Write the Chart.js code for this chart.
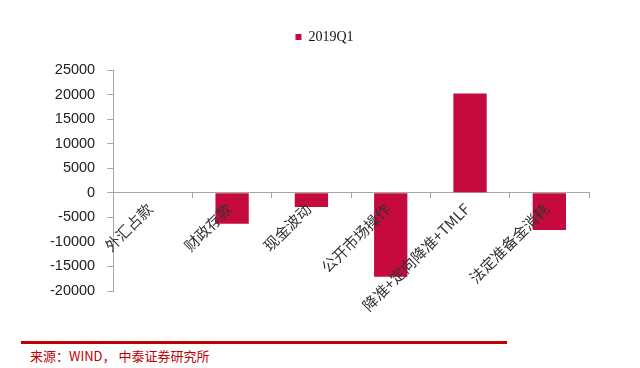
<!DOCTYPE html>
<html>
<head>
<meta charset="utf-8">
<script src="https://cdn.jsdelivr.net/npm/chart.js@4/dist/chart.umd.min.js"></script>
<style>
    html, body { margin: 0; padding: 0; background: #fff; }
    #wrap { position: relative; width: 640px; height: 368px; overflow: hidden; }
    #chartBox { position: absolute; left: 0; top: 0; width: 640px; height: 330px; }
    #rule { position: absolute; left: 21px; top: 341px; width: 486px; height: 3px; background: #c00000; }
    #source { position: absolute; left: 30px; top: 346px; font: 13px "Noto Sans CJK SC", sans-serif; color: #c00000; }
</style>
</head>
<body>
<div id="wrap">
    <div id="chartBox"><canvas id="barChart" width="640" height="330"></canvas></div>
    <div id="rule"></div>
    <div id="source">来源：WIND， 中泰证券研究所</div>
</div>
<script>
/* ===== DATA ===== */
const categories = ["外汇占款", "财政存款", "现金波动", "公开市场操作", "降准+定向降准+TMLF", "法定准备金消耗"];
const seriesName = "2019Q1";
const values2019Q1 = [-100, -6300, -2900, -17100, 20200, -7600];
const yMin = -20000;
const yMax = 25000;
const yStep = 5000;

/* ===== legend spacing / nudge ===== */
const legendGap = {
    id: "legendGap",
    beforeInit(chart) {
        const fit = chart.legend.fit;
        chart.legend.fit = function () {
            fit.bind(chart.legend)();
            this.height += 16;
        };
    },
    afterLayout(chart) {
        chart.legend.left += 11;
        chart.legend.right += 11;
    }
};

/* ===== BAR CHART ===== */
new Chart(document.getElementById("barChart"), {
    type: "bar",
    data: {
        labels: categories,
        datasets: [{
            label: seriesName,
            data: values2019Q1,
            backgroundColor: "#c70a3e",
            categoryPercentage: 0.42,
            barPercentage: 1
        }]
    },
    options: {
        responsive: false,
        animation: false,
        layout: { padding: { left: 38, right: 51, top: 20, bottom: 39 } },
        scales: {
            x: {
                position: { y: 0 },
                grid: { drawOnChartArea: false, tickLength: 5, color: "#a6a6a6" },
                border: { color: "#a6a6a6" },
                ticks: {
                    z: 1,
                    minRotation: 45,
                    maxRotation: 45,
                    autoSkip: false,
                    padding: 2,
                    labelOffset: -3,
                    color: "#333",
                    font: { family: "Noto Sans CJK SC", size: 15 }
                }
            },
            y: {
                min: yMin,
                max: yMax,
                grid: { drawOnChartArea: false, tickLength: 6, color: "#a6a6a6" },
                border: { color: "#a6a6a6" },
                ticks: {
                    stepSize: yStep,
                    padding: 12,
                    color: "#222",
                    font: { family: "Liberation Sans", size: 14.5 },
                    callback: (v) => String(v)
                }
            }
        },
        plugins: {
            legend: {
                display: true,
                position: "top",
                labels: {
                    boxWidth: 6,
                    boxHeight: 6,
                    padding: 10,
                    color: "#111",
                    font: { family: "Liberation Serif", size: 14 }
                }
            },
            tooltip: { enabled: false }
        }
    },
    plugins: [legendGap]
});
</script>
</body>
</html>
